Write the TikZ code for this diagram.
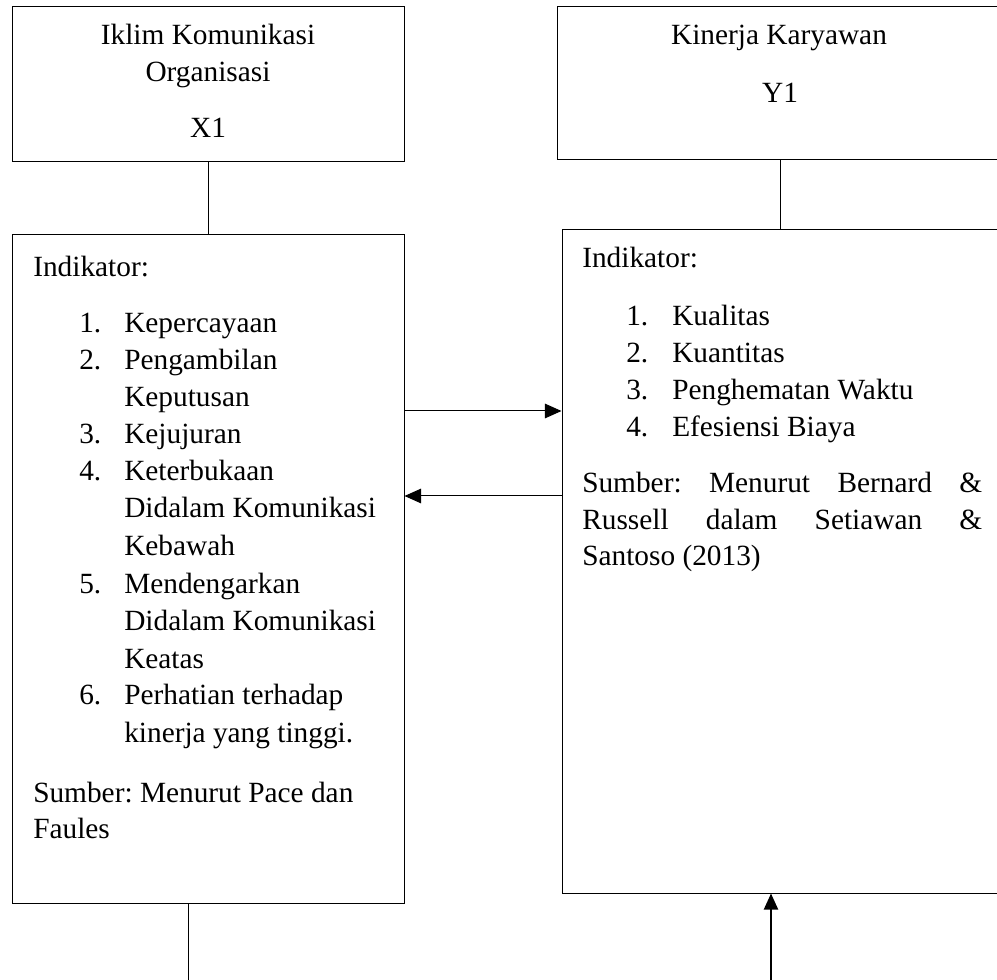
\documentclass[tikz,border=0pt]{standalone}
\usepackage{fontspec}
\setmainfont{Liberation Serif}
\usetikzlibrary{arrows.meta}
\frenchspacing
\begin{document}
\begin{tikzpicture}[x=0.75pt,y=-0.75pt,
  box/.style={draw=black, line width=0.75pt, rectangle, inner sep=0pt},
  txt/.style={inner sep=0pt, font=\fontsize{22pt}{27pt}\selectfont\frenchspacing},
  link/.style={draw=black, line width=0.75pt},
  arr/.style={link, -{Triangle[length=12.5pt,width=11pt]}},
  thickarr/.style={draw=black, line width=1.5pt, -{Triangle[length=12pt,width=10.5pt]}}]
\useasboundingbox (0,0) rectangle (997,980);

% boxes
\node[box, minimum width=294pt, minimum height=116.25pt] (tl) at (208,84.5) {};
\node[box, minimum width=294pt, minimum height=501pt] (li) at (208,569) {};
\node[box, minimum width=332.25pt, minimum height=114.75pt] (tr) at (778.5,83.5) {};
\node[box, minimum width=328.5pt, minimum height=497.25pt] (ri) at (781,561.5) {};

% top-left text
\node[txt, anchor=base] (tl1) at (208,45) {Iklim Komunikasi};
\node[txt, anchor=base] (tl2) at (208,82) {Organisasi};
\node[txt, anchor=base] (tl3) at (208,138) {X1};

% top-right text
\node[txt, anchor=base] (tr1) at (779,45) {Kinerja Karyawan};
\node[txt, anchor=base] (tr2) at (780,103) {Y1};

% left indicator text
\node[txt, anchor=base west] (lh) at (33,277) {Indikator:};
\foreach \yy/\num/\tt [count=\i] in {
  333/1./Kepercayaan,
  370/2./Pengambilan,
  407//Keputusan,
  444/3./Kejujuran,
  481/4./Keterbukaan,
  518//Didalam Komunikasi,
  556//Kebawah,
  594/5./Mendengarkan,
  631//Didalam Komunikasi,
  668//Keatas,
  705/6./Perhatian terhadap,
  742//kinerja yang tinggi.}{
  \node[txt, anchor=base west] (ln\i) at (79,\yy) {\num};
  \node[txt, anchor=base west] (lt\i) at (124,\yy) {\tt};
}
\node[txt, anchor=base west] (ls1) at (33,802) {Sumber: Menurut Pace dan};
\node[txt, anchor=base west] (ls2) at (33,838) {Faules};

% right indicator text
\node[txt, anchor=base west] (rh) at (582,268) {Indikator:};
\foreach \yy/\num/\tt [count=\i] in {
  326/1./Kualitas,
  363/2./Kuantitas,
  400/3./Penghematan Waktu,
  437/4./Efesiensi Biaya}{
  \node[txt, anchor=base west] (rn\i) at (626,\yy) {\num};
  \node[txt, anchor=base west] (rt\i) at (672,\yy) {\tt};
}
\node[txt, anchor=base west] (rs1) at (582,493) {\makebox[300pt][s]{Sumber: Menurut Bernard \&}};
\node[txt, anchor=base west] (rs2) at (582,530) {\makebox[300pt][s]{Russell dalam Setiawan \&}};
\node[txt, anchor=base west] (rs3) at (582,566) {Santoso (2013)};

% connectors
\draw[link] (tl.south) -- (li.north);
\coordinate (c1) at (780,160);
\draw[link] (c1 |- tr.south) -- (c1 |- ri.north);

\coordinate (a1) at (0,411);
\coordinate (a2) at (0,496);
\draw[arr] (li.east |- a1) -- (ri.west |- a1);
\draw[arr] (ri.west |- a2) -- (li.east |- a2);

\coordinate (bl) at (188,980);
\draw[link] (bl |- li.south) -- (bl);
\coordinate (br) at (771,980);
\draw[thickarr] (br) -- (br |- ri.south);
\end{tikzpicture}
\end{document}
